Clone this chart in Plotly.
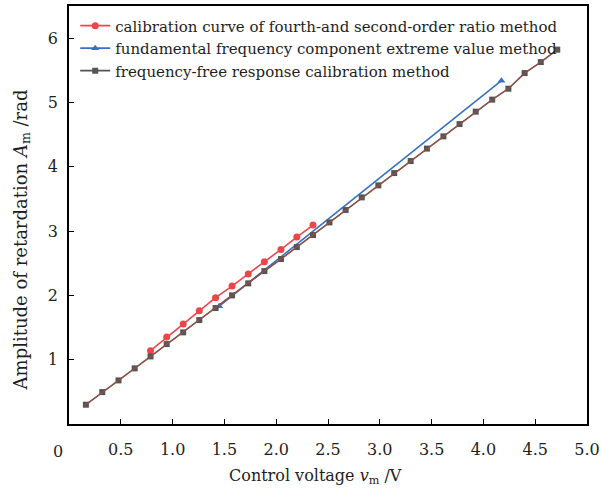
import plotly.graph_objects as go

# Data
gray_x = [0.163, 0.321, 0.478, 0.634, 0.787, 0.943, 1.102, 1.258, 1.415, 1.574,
          1.730, 1.886, 2.046, 2.199, 2.355, 2.514, 2.670, 2.826, 2.986, 3.139,
          3.298, 3.455, 3.614, 3.770, 3.926, 4.085, 4.241, 4.398, 4.554, 4.713]
gray_y = [0.300, 0.496, 0.678, 0.865, 1.051, 1.243, 1.425, 1.616, 1.803, 2.000,
          2.187, 2.378, 2.565, 2.751, 2.938, 3.135, 3.327, 3.524, 3.711, 3.902,
          4.089, 4.283, 4.473, 4.664, 4.857, 5.044, 5.214, 5.457, 5.628, 5.821]

red_x = [0.787, 0.943, 1.102, 1.258, 1.415, 1.574, 1.730, 1.886, 2.046, 2.199, 2.355]
red_y = [1.140, 1.351, 1.554, 1.760, 1.964, 2.145, 2.331, 2.524, 2.715, 2.907, 3.093]

blue_x = [1.450, 4.174]
blue_y = [1.832, 5.339]

x_ticks = [0.5, 1.0, 1.5, 2.0, 2.5, 3.0, 3.5, 4.0, 4.5, 5.0]
x_tick_text = ["0.5", "1.0", "1.5", "2.0", "2.5", "3.0", "3.5", "4.0", "4.5", "5.0"]
y_ticks = [1, 2, 3, 4, 5, 6]

names = ["calibration curve of fourth-and second-order ratio method",
         "fundamental frequency component extreme value method",
         "frequency-free response calibration method"]

FONT = "DejaVu Serif"
TXT = "#1e1e1e"
RED = "#ef4548"
BLUE = "#3670c4"
GRAY = "#555555"
BROWN = "#b24a3c"

L, R, T, B = 69, 587, 5.6, 423.6
W, H = R - L, B - T

fig = go.Figure()
fig.add_trace(go.Scatter(x=red_x, y=red_y, mode="lines+markers", name=names[0],
                         line=dict(color=RED, width=1.6),
                         marker=dict(symbol="circle", size=7, color=RED)))
fig.add_trace(go.Scatter(x=blue_x, y=blue_y, mode="lines+markers", name=names[1],
                         line=dict(color=BLUE, width=1.6),
                         marker=dict(symbol="triangle-up", size=7, color=BLUE)))
fig.add_trace(go.Scatter(x=gray_x, y=gray_y, mode="lines+markers", name=names[2],
                         line=dict(color=GRAY, width=1.6),
                         marker=dict(symbol="square", size=6, color=GRAY)))
fig.add_trace(go.Scatter(x=gray_x, y=gray_y, mode="lines", showlegend=False,
                         line=dict(color=BROWN, width=1.0), hoverinfo="skip"))

# origin label
fig.add_annotation(x=0, y=0, xref="x", yref="paper", text="0", showarrow=False,
                   xanchor="center", yanchor="middle", yshift=-27, xshift=-11,
                   font=dict(family=FONT, size=16, color=TXT))
# axis titles
fig.add_annotation(xref="paper", yref="paper", x=(315 - L) / W,
                   y=-(476 - B) / H, xanchor="center", yanchor="middle",
                   text="Control voltage <i>v</i><sub>m</sub> /V", showarrow=False,
                   font=dict(family=FONT, size=16, color=TXT))
fig.add_annotation(xref="paper", yref="paper", x=-(L - 22) / W,
                   y=(B - 240) / H, xanchor="center", yanchor="middle",
                   textangle=-90,
                   text="Amplitude of retardation <i>A</i><sub>m</sub> /rad", showarrow=False,
                   font=dict(family=FONT, size=18, color=TXT))

fig.update_layout(
    width=602, height=494,
    margin=dict(l=L, r=602 - R, t=T, b=494 - B, autoexpand=False),
    paper_bgcolor="white", plot_bgcolor="white",
    font=dict(family=FONT, size=16, color=TXT),
    legend=dict(x=0.012, y=(B - 9) / H, xanchor="left", yanchor="top",
                bgcolor="rgba(0,0,0,0)", font=dict(family=FONT, size=15, color=TXT),
                tracegroupgap=0, itemwidth=30),
    xaxis=dict(range=[0, 5], tickvals=x_ticks, ticktext=x_tick_text,
               ticks="inside", ticklen=5, tickcolor="#000", ticklabelstandoff=10,
               showline=True, linecolor="#000", linewidth=1.5, mirror=True,
               showgrid=False, zeroline=False),
    yaxis=dict(range=[0, 6.5], tickvals=y_ticks,
               ticks="inside", ticklen=5, tickcolor="#000", ticklabelstandoff=6,
               showline=True, linecolor="#000", linewidth=1.5, mirror=True,
               showgrid=False, zeroline=False),
)

fig.write_html("out.html")
